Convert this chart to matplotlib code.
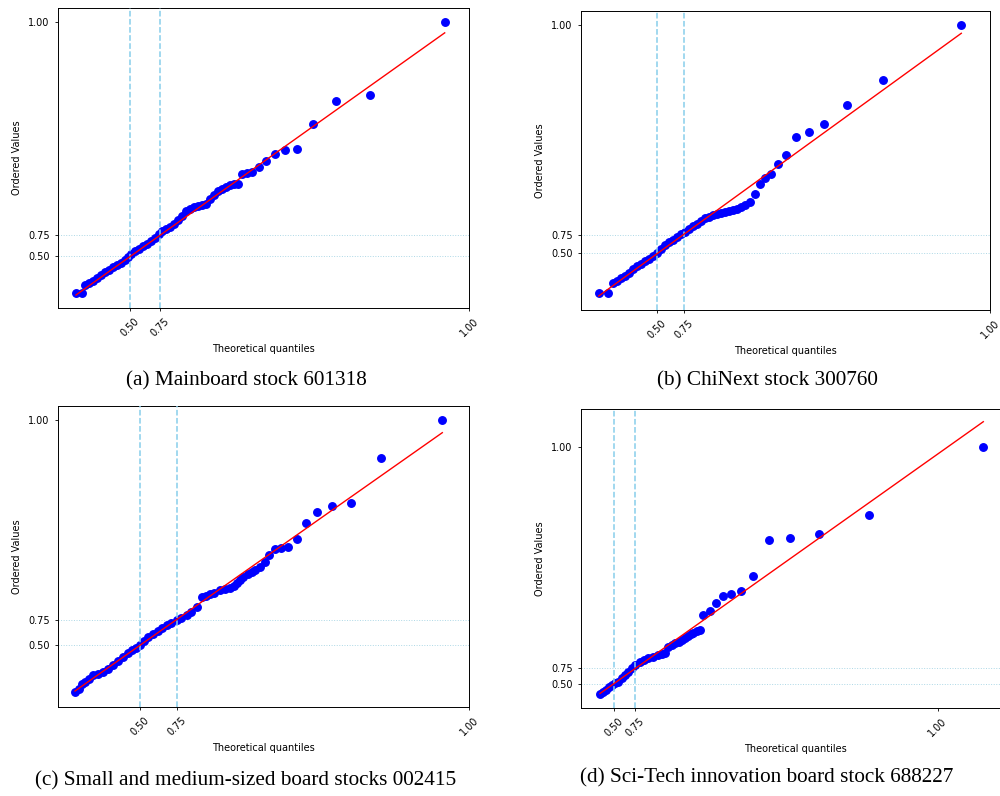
import matplotlib.pyplot as plt
import numpy as np

plt.rcParams['font.family'] = 'DejaVu Sans'

tick_text = ['0.50', '0.75', '1.00']

# (a) Mainboard stock 601318
a_x = [18, 23.7, 27, 31, 35, 39, 43, 47, 51, 55, 59, 63, 67, 70, 73, 77, 81, 85,
       89, 93, 97, 101, 104, 108, 112, 116, 120, 124, 128, 132, 136, 140, 144,
       148, 152, 156, 160, 164, 168, 172, 176, 180, 183.7, 188.7, 194, 200.7,
       208.3, 217, 227, 239.3, 255.3, 278, 312.3, 386.7]
a_y = [14.7, 14.7, 23, 25, 27, 30, 33, 36, 38.5, 41, 43, 45.5, 48, 51, 54, 57,
       59.5, 62, 64.5, 67.5, 70.5, 74, 77, 79, 81.5, 84.5, 88, 92, 97, 99.5, 101,
       102, 103, 104.5, 109, 113, 117, 119.5, 121.5, 123, 124, 124.5, 134, 135.3,
       136.3, 140.7, 147, 153.7, 158, 159, 184, 206.7, 212.7, 286]
a_fit = (0.711, 0.2)
a_xt = [72, 102, 411]
a_yt = [52, 73, 286]

# (b) ChiNext stock 300760
b_x = [17.7, 27.3, 32.3, 36, 40, 44, 48, 52, 56, 60, 64, 68, 72, 76, 80, 84, 88,
       92, 96, 100, 104, 108, 112, 116, 120, 124, 128, 132, 136, 140, 144, 148,
       152, 156, 160, 164, 169, 174, 178.7, 184, 190, 196.7, 205, 215, 227.7,
       243.3, 266, 302, 380.3]
b_y = [17, 17, 26.7, 29.5, 32, 34.5, 37.5, 41, 44, 46.5, 49, 51.5, 54, 57.5,
       61.5, 65, 68, 70.5, 73, 76, 78.5, 81, 84, 86.5, 89.5, 91.7, 93.5, 95, 96.2,
       97.3, 98.3, 99.3, 100.3, 101.5, 103, 105, 108.3, 115.7, 126.3, 131.7,
       135.7, 145.7, 155, 173.3, 177.7, 186, 205.3, 230, 285.3]
b_fit = (0.7245, 1.18)
b_xt = [75.7, 102.7, 409]
b_yt = [56.7, 74.7, 285.3]

# (c) Small and medium-sized board stocks 002415
c_x = [17, 21, 24, 27, 31, 35.3, 40, 45.3, 50, 55.3, 60, 65.3, 69.5, 73.7, 78,
       82, 86, 90.3, 95, 100.3, 104, 108.7, 113, 118.7, 123, 128.7, 133, 138.7,
       143.7, 148, 152, 156, 162, 167, 172, 176, 178.7, 182, 185.3, 190.3,
       193.7, 197, 202, 206.5, 211.3, 217, 223, 230, 238.5, 247.5, 259.3,
       273.7, 293, 323.3, 384.3]
c_y = [15.3, 18, 23, 25.3, 28.5, 32, 33.5, 35.3, 38, 42, 46, 50.3, 54, 57,
       59.5, 62, 66, 69.7, 73, 76.3, 79, 82, 84.5, 87, 89.5, 92, 95, 100.3,
       109.7, 111, 113, 114.5, 117, 118, 119, 121, 124, 127.5, 130.3, 132.7,
       135.3, 137, 139.7, 144.7, 152, 157.7, 159, 160.3, 168, 183.7, 194.7,
       201, 203.7, 249.3, 287.3]
c_fit = (0.7033, 4.04)
c_xt = [82, 118.7, 411]
c_yt = [62, 87, 287.3]

# (d) Sci-Tech innovation board stock 688227
d_x = [19, 22, 25, 28, 31, 34, 37.3, 40.5, 44, 47, 50.7, 54, 59, 63, 67.3, 72,
       77.3, 81, 84, 87.3, 90.5, 94, 97.5, 100.7, 104, 107.3, 110, 112.3, 115.5,
       119, 122.3, 128.7, 134.7, 141.7, 150, 160, 172.3, 188, 208.5, 237.7,
       287.5, 402.3]
d_y = [14, 16, 18, 21, 23, 25, 26.3, 30, 33, 36.5, 39.7, 43, 46.3, 48, 49.7,
       51.5, 53, 54, 54.7, 60.7, 62.7, 64.7, 66.3, 68, 70, 72, 74, 75.3, 77, 78,
       93.5, 97.3, 105.5, 111.7, 114, 117, 131.7, 167.7, 170, 174, 193, 260.7]
d_fit = (0.7091, 1.02)
d_xt = [33, 53.7, 356.7]
d_yt = [24, 39.7, 260.7]

captions = ['(a) Mainboard stock 601318',
            '(b) ChiNext stock 300760',
            '(c) Small and medium-sized board stocks 002415',
            '(d) Sci-Tech innovation board stock 688227']

W, H = 1000, 796
fig = plt.figure(figsize=(W / 100, H / 100), dpi=100)

# left, top, width, height in pixels; caption centre x, y
panels = [
    (a_x, a_y, a_fit, a_xt, a_yt, (58, 8, 411, 300), (246, 381)),
    (b_x, b_y, b_fit, b_xt, b_yt, (581, 11, 409, 299), (767, 381)),
    (c_x, c_y, c_fit, c_xt, c_yt, (58, 406, 411, 301), (246, 781)),
    (d_x, d_y, d_fit, d_xt, d_yt, (581, 409, 429, 299), (767, 778)),
]

for (x, y, fit, xt, yt, box, cap), text in zip(panels, captions):
    left, top, w, h = box
    ax = fig.add_axes([left / W, (H - top - h) / H, w / W, h / H])
    ax.plot(x, y, 'o', color='blue', ms=5.4, zorder=2)
    xs = np.array([x[0], x[-1]])
    ax.plot(xs, fit[0] * xs + fit[1], color='red', lw=1.0, zorder=4)
    for v in xt[:2]:
        ax.axvline(v, color='skyblue', ls='--', lw=1.1, zorder=3)
    for v in yt[:2]:
        ax.axhline(v, color='lightblue', ls=':', lw=0.7, zorder=1)
    ax.set_xlim(0, w)
    ax.set_ylim(0, h)
    ax.set_xticks(xt, tick_text, rotation=45, fontsize=7)
    ax.set_yticks(yt, tick_text, fontsize=7)
    ax.tick_params(length=2.5, width=0.6)
    for s in ax.spines.values():
        s.set_linewidth(0.7)
    ax.set_xlabel('Theoretical quantiles', fontsize=7, labelpad=4)
    ax.set_ylabel('Ordered Values', fontsize=7, labelpad=4)
    fig.text(cap[0] / W, 1 - cap[1] / H, text, ha='center', va='center',
             fontsize=15.3, family='Liberation Serif')

fig.savefig('out.png', dpi=100)
